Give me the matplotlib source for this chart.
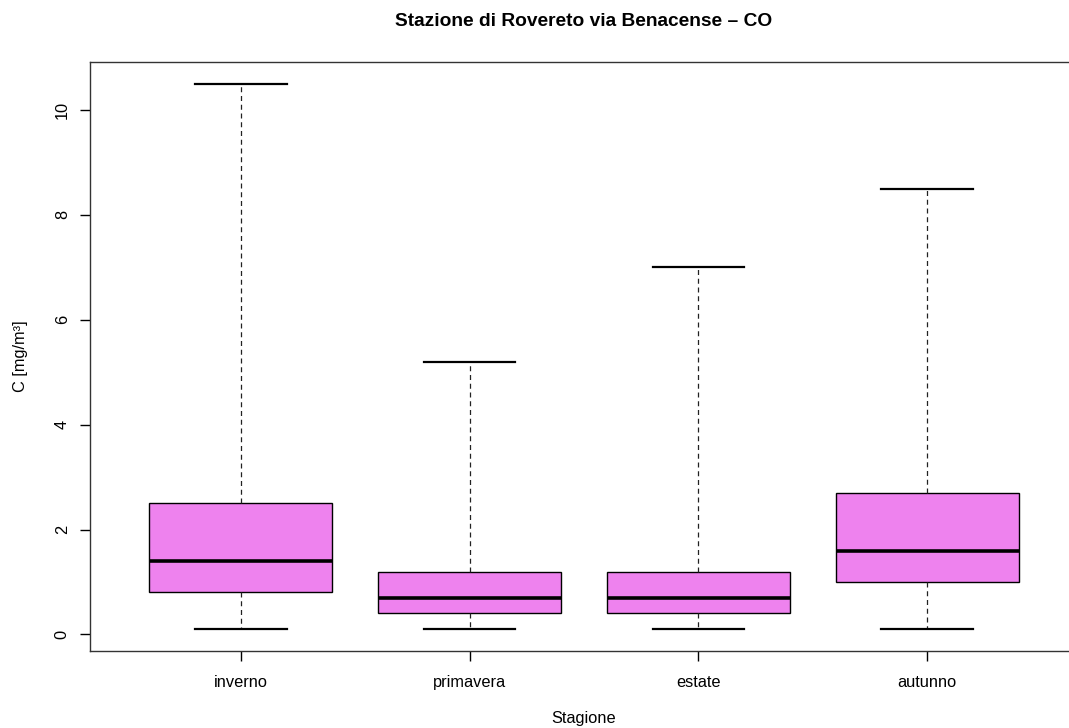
import matplotlib
matplotlib.use("Agg")
import matplotlib.pyplot as plt

categories = ["inverno", "primavera", "estate", "autunno"]
whislo = [0.1, 0.1, 0.1, 0.1]
q1 = [0.8, 0.4, 0.4, 1.0]
med = [1.4, 0.7, 0.7, 1.6]
q3 = [2.5, 1.2, 1.2, 2.7]
whishi = [10.5, 5.2, 7.0, 8.5]
yticks = [0, 2, 4, 6, 8, 10]

plt.rcParams['font.family'] = ['Liberation Sans', 'DejaVu Sans']

W, H = 1069, 728
fig = plt.figure(figsize=(W / 100, H / 100), dpi=100)
ax = fig.add_axes([90 / W, (H - 651) / H, (1078 - 90) / W, (651 - 62) / H])

stats = []
for i, c in enumerate(categories):
    stats.append(dict(label=c, whislo=whislo[i], q1=q1[i], med=med[i],
                      q3=q3[i], whishi=whishi[i], fliers=[]))

ax.bxp(stats, positions=range(1, len(categories) + 1), widths=0.8,
       patch_artist=True, showfliers=False,
       boxprops=dict(facecolor='#EE82EE', edgecolor='black', linewidth=1.0),
       medianprops=dict(color='black', linewidth=2.6, solid_capstyle='butt'),
       whiskerprops=dict(color='#222222', linewidth=0.9, linestyle=(0, (4, 3))),
       capprops=dict(color='black', linewidth=1.6),
       capwidths=0.4)

ax.set_xlim(0.34, 4.66)
ax.set_ylim(-0.316, 10.916)
ax.set_yticks(yticks)
ax.set_yticklabels([str(v) for v in yticks], rotation=90, va='center')
ax.set_xticks(range(1, len(categories) + 1))
ax.set_xticklabels(categories)
ax.tick_params(axis='both', direction='out', length=7, width=1, labelsize=11.8,
               color='black')
ax.tick_params(axis='x', pad=10)
ax.tick_params(axis='y', pad=7.5)
for s in ax.spines.values():
    s.set_color('#333333')
    s.set_linewidth(1.0)

fig.text(584 / W, 1 - 718 / H, 'Stagione', ha='center', va='center',
         fontsize=11.8)
fig.text(20.5 / W, 1 - 356 / H, 'C [mg/m³]', ha='center', va='center',
         rotation=90, fontsize=11.8)
fig.text(584 / W, 1 - 22 / H, 'Stazione di Rovereto via Benacense – CO',
         ha='center', va='center', fontsize=13.8, fontweight='bold')

fig.savefig('out.png', dpi=100)
